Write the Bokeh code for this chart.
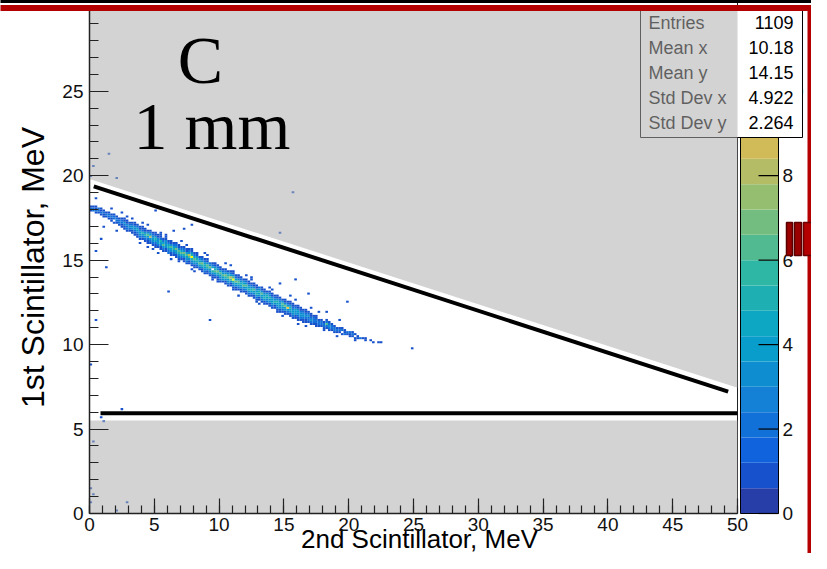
import numpy as np
from bokeh.plotting import figure
from bokeh.models import Range1d, ColumnDataSource, SingleIntervalTicker
from bokeh.core.properties import value
from bokeh.embed import file_html
from bokeh.resources import INLINE

# ---------------- histogram definition (TH2: 250 x 250 bins) ----------------
X_MIN, X_MAX, NBX = 0.0, 50.0, 250
Y_MIN, Y_MAX, NBY = 0.0, 30.0, 250
DX = (X_MAX - X_MIN) / NBX
DY = (Y_MAX - Y_MIN) / NBY
Z_MAX, N_LEVELS = 12.0, 20

# main band: x-bin of column, first y-bin, counts going up in y
band_xbin = [0, 1, 2, 3, 4, 5, 6, 7, 8, 9,
             10, 11, 12, 13, 14, 15, 16, 17, 18, 19,
             20, 21, 22, 23, 24, 25, 26, 27, 28, 29,
             30, 31, 32, 33, 34, 35, 36, 37, 38, 39,
             40, 41, 42, 43, 44, 45, 46, 47, 48, 49,
             50, 51, 52, 53, 54, 55, 56, 57, 58, 59,
             60, 61, 62, 63, 64, 65, 66, 67, 68, 69,
             70, 71, 72, 73, 74, 75, 76, 77, 78, 79,
             80, 81, 82, 83, 84, 85, 86, 87, 88, 89,
             90, 91, 92, 93, 94, 95, 96, 97, 98, 99,
             100, 101, 102, 103, 104, 105, 106, 108, 109, 111, 112]
band_ybin = [149, 149, 148, 148, 147, 146, 146, 145, 144, 143,
             143, 142, 141, 140, 139, 139, 138, 137, 136, 135,
             135, 134, 133, 133, 132, 131, 131, 130, 129, 129,
             128, 127, 127, 126, 125, 125, 124, 123, 123, 122,
             121, 121, 120, 119, 118, 118, 117, 116, 116, 115,
             114, 114, 113, 112, 112, 111, 110, 110, 109, 109,
             108, 107, 107, 106, 105, 105, 104, 103, 103, 102,
             101, 101, 100, 99, 99, 98, 98, 97, 96, 96,
             95, 95, 94, 94, 94, 93, 93, 92, 92, 92,
             91, 91, 90, 90, 89, 89, 89, 88, 88, 88,
             87, 87, 86, 86, 86, 86, 85, 85, 84, 84, 84]
band_counts = [
    [1, 2, 1], [2, 2, 1], [1, 2, 1, 1], [1, 2, 2], [1, 2, 1, 1],
    [1, 1, 2, 1], [1, 2, 1], [1, 2, 2, 1], [1, 1, 2, 1], [1, 0, 2, 2, 1],
    [1, 2, 2, 1], [1, 2, 2, 1], [1, 1, 2, 2, 1], [1, 1, 2, 3, 1, 1], [1, 2, 2, 3, 1, 1],
    [1, 2, 3, 2, 1], [1, 1, 3, 3, 2, 1], [1, 1, 2, 3, 3, 1, 1], [1, 1, 2, 3, 4, 2, 1], [1, 2, 3, 4, 3, 1, 1],
    [1, 2, 3, 5, 2, 1, 1], [1, 2, 3, 5, 3, 1, 1], [1, 1, 2, 4, 6, 3, 1], [1, 2, 3, 8, 4, 2, 1], [1, 2, 3, 4, 3, 2, 1],
    [1, 1, 2, 4, 5, 3, 1, 1], [1, 2, 4, 3, 3, 1, 1], [1, 1, 3, 4, 5, 2, 1, 1], [1, 2, 3, 6, 4, 2, 1], [1, 1, 3, 4, 3, 3, 1, 1],
    [1, 2, 3, 5, 4, 2, 1], [1, 1, 3, 4, 6, 3, 1, 1], [1, 2, 3, 5, 4, 2, 1], [1, 1, 3, 4, 7, 3, 2, 1], [1, 2, 3, 5, 6, 3, 1, 1],
    [1, 2, 4, 6, 4, 2, 1], [1, 1, 3, 5, 7, 3, 2, 1], [1, 2, 3, 4, 6, 4, 1, 1], [1, 1, 3, 6, 8, 3, 2, 1], [1, 2, 3, 5, 12, 5, 3, 1, 1],
    [1, 1, 3, 4, 6, 4, 2, 1], [1, 2, 3, 5, 5, 3, 1, 1], [1, 2, 4, 6, 4, 3, 1], [1, 1, 3, 5, 7, 3, 2, 1], [1, 2, 3, 4, 5, 4, 2, 1],
    [1, 1, 3, 5, 6, 3, 1, 1], [1, 2, 3, 4, 7, 3, 2], [1, 1, 3, 5, 0, 4, 2, 1], [1, 2, 4, 6, 5, 3, 1, 1], [1, 1, 3, 5, 7, 3, 2, 1],
    [1, 2, 3, 4, 6, 4, 1, 1], [1, 3, 4, 6, 4, 2, 1], [1, 1, 3, 5, 7, 3, 2, 1], [1, 2, 3, 4, 6, 5, 3, 1], [1, 1, 3, 6, 8, 4, 2, 1],
    [1, 2, 3, 5, 12, 6, 3, 1, 1], [1, 1, 3, 4, 7, 4, 2, 1], [1, 2, 3, 5, 6, 3, 1, 1], [1, 1, 3, 4, 5, 3, 2, 1], [1, 2, 3, 6, 4, 3, 1],
    [1, 1, 3, 4, 6, 3, 2, 1], [1, 2, 3, 5, 4, 3, 1, 1], [1, 2, 4, 5, 3, 2, 1], [1, 1, 3, 4, 6, 3, 1, 1], [1, 2, 3, 5, 4, 3, 1, 1],
    [1, 1, 3, 4, 5, 3, 2], [1, 2, 3, 4, 6, 3, 1, 1], [1, 1, 3, 5, 4, 3, 1, 1], [1, 2, 3, 4, 5, 3, 1], [1, 1, 3, 3, 5, 3, 2, 1],
    [1, 2, 3, 4, 4, 3, 1, 1], [1, 1, 3, 5, 3, 2, 1], [1, 2, 3, 4, 5, 3, 1, 1], [1, 1, 3, 3, 4, 3, 2, 1], [1, 2, 3, 5, 6, 3, 1],
    [1, 1, 3, 4, 7, 3, 1, 1], [1, 2, 3, 10, 4, 2, 1], [1, 1, 3, 4, 5, 3, 1, 1], [1, 2, 3, 4, 3, 2, 1, 1], [1, 1, 3, 3, 4, 2, 1],
    [1, 1, 2, 3, 4, 3, 1, 1], [1, 2, 3, 3, 2, 1, 1], [1, 1, 2, 3, 3, 2, 1], [1, 1, 2, 3, 2, 1, 1], [1, 2, 2, 3, 2, 1],
    [1, 2, 3, 2, 1, 1], [1, 2, 2, 2, 1], [1, 1, 2, 2, 1, 1], [1, 2, 2, 1], [1, 2, 2, 1],
    [1, 2, 2, 1], [1, 2, 6, 2, 1], [1, 2, 3, 2, 1], [1, 2, 2, 1], [1, 2, 2, 1],
    [1, 2, 1], [1, 2, 1], [1, 0, 2, 1], [2, 1, 1], [1, 2],
    [1, 1, 2], [1, 2, 1], [1, 0, 1], [1, 1], [2],
    [1], [1, 1], [1], [1], [1], [1]]

# isolated single entries (x, y in MeV)
out_x = [1.57, 0.33, 2.06, 0.08, 0.59, 15.6, 1.62, 5.0, 14.6, 6.4,
         7.3, 7.8, 0.8, 0.6, 1.36, 4.6, 6.1, 12.55, 15.8, 14.6,
         6.07, 16.8, 19.8, 9.28, 0.6, 18.3, 24.8, 0.8, 1.1, 2.57,
         0.33, 0.08, 0.33, 0.08, 2.08, 2.83, 0.08,
         1.0, 2.5, 3.2, 3.9, 4.4, 5.3, 5.9, 6.8, 7.1, 8.2,
         8.8, 9.9, 10.4, 11.6, 12.1, 13.2, 13.9, 14.9, 15.4, 16.6,
         17.2, 18.0, 19.3, 20.5,
         2.0, 2.9, 4.0, 4.9, 5.6, 6.3, 7.6, 7.9, 9.1, 9.4,
         10.8, 11.0, 12.6, 12.9, 14.2, 14.4, 15.9, 16.2, 17.7, 19.0]
out_y = [21.34, 20.6, 19.85, 20.0, 18.7, 18.96, 18.1, 17.9, 16.58, 16.7,
         16.8, 17.05, 16.2, 15.5, 14.6, 15.8, 15.4, 13.9, 13.9, 13.57,
         13.13, 12.98, 12.5, 11.46, 11.46, 11.9, 9.8, 5.75, 5.45, 6.2,
         4.2, 1.55, 1.1, 0.63, 0.22, 0.6, 8.8,
         17.0, 17.8, 17.45, 16.0, 17.1, 15.45, 16.55, 14.9, 16.1, 14.35,
         15.45, 13.7, 14.85, 12.95, 14.1, 12.45, 13.4, 11.65, 12.85, 11.1,
         12.15, 10.8, 11.45, 10.25,
         16.75, 17.6, 17.2, 15.6, 16.6, 15.05, 15.9, 14.45, 15.3, 13.85,
         14.65, 13.2, 13.95, 12.5, 13.3, 11.9, 12.6, 11.25, 11.95, 10.55]

# selection cuts (black lines) and the accepted (white) window
cut_upper_x = [0.33, 49.28]
cut_upper_y = [19.37, 7.22]
cut_lower_x = [0.85, 50.0]
cut_lower_y = [5.93, 5.93]
win_top_y = [19.8, 7.45]
win_bottom_y = 5.5

stat_names = ["Entries", "Mean x", "Mean y", "Std Dev x", "Std Dev y"]
stat_values = ["1109", "10.18", "14.15", "4.922", "2.264"]
z_ticks = [0, 2, 4, 6, 8, 10]

# ---------------- kBird palette ----------------
st = [0.0, 0.125, 0.25, 0.375, 0.5, 0.625, 0.75, 0.875, 1.0]
RR = [0.2082, 0.0592, 0.0780, 0.0232, 0.1802, 0.5301, 0.8186, 0.9956, 0.9764]
GG = [0.1664, 0.3599, 0.5041, 0.6419, 0.7178, 0.7492, 0.7328, 0.7862, 0.9832]
BB = [0.5293, 0.8684, 0.8385, 0.7914, 0.6425, 0.4662, 0.3499, 0.1968, 0.0539]


def bird(f):
    return "#%02x%02x%02x" % tuple(int(round(255 * np.interp(f, st, C))) for C in (RR, GG, BB))


level_colors = [bird(int((i + 0.99) * 255 / N_LEVELS) / 254.0) for i in range(N_LEVELS)]

# ---------------- fill cells ----------------
cells = {}
for xb, yb0, cnts in zip(band_xbin, band_ybin, band_counts):
    for k, c in enumerate(cnts):
        if c > 0:
            cells[(xb, yb0 + k)] = cells.get((xb, yb0 + k), 0) + c
for x, y in zip(out_x, out_y):
    key = (int(x / DX), int(y / DY))
    cells[key] = cells.get(key, 0) + 1

lefts, rights, bottoms, tops, cols = [], [], [], [], []
for (xb, yb), c in cells.items():
    lefts.append(X_MIN + xb * DX)
    rights.append(X_MIN + (xb + 1) * DX)
    bottoms.append(Y_MIN + yb * DY)
    tops.append(Y_MIN + (yb + 1) * DY)
    lev = min(int(c / (Z_MAX / N_LEVELS)), N_LEVELS - 1)
    cols.append(level_colors[lev])
cell_src = ColumnDataSource(dict(left=lefts, right=rights, bottom=bottoms, top=tops, color=cols))

# ---------------- figure (frame covers the whole canvas) ----------------
W, H = 811, 553
PX0, PY0 = 89.0, 513.0          # pixel of (0, 0)
SX, SY = 12.96, 16.89           # pixels per MeV
X0, X1 = -PX0 / SX, (W - PX0) / SX
Y0, Y1 = -(H - PY0) / SY, PY0 / SY


def dx(px):
    return (px - PX0) / SX


def dy(py):
    return (PY0 - py) / SY


p = figure(width=W, height=H, x_range=Range1d(X0, X1), y_range=Range1d(Y0, Y1),
           output_backend="svg", toolbar_location=None, title=None,
           min_border_left=0, min_border_right=0, min_border_top=0, min_border_bottom=0)
p.background_fill_color = "white"
p.border_fill_color = "white"
p.outline_line_color = None
p.grid.visible = False

xa = p.xaxis[0]
ya = p.yaxis[0]
xa.fixed_location = 0
ya.fixed_location = 0
xa.ticker = SingleIntervalTicker(interval=5, num_minor_ticks=5)
ya.ticker = SingleIntervalTicker(interval=5, num_minor_ticks=5)
xa.bounds = (0, 50)
ya.bounds = (0, 29.95)
for ax in (xa, ya):
    ax.axis_label = None
    ax.major_tick_out = 0
    ax.minor_tick_out = 0
    ax.axis_line_color = "#222222"
    ax.axis_line_width = 1.5
    ax.major_tick_line_color = "#222222"
    ax.minor_tick_line_color = "#222222"
    ax.major_tick_line_width = 1.2
    ax.minor_tick_line_width = 1.2
    ax.major_label_text_font = "Liberation Sans"
    ax.major_label_text_font_size = "19px"
    ax.major_label_text_color = "#111111"
xa.major_tick_in = 15
xa.minor_tick_in = 8
ya.major_tick_in = 19
ya.minor_tick_in = 9
xa.major_label_standoff = 4
ya.major_label_standoff = 6

# histogram cells
p.quad(left="left", right="right", bottom="bottom", top="top", fill_color="color",
       line_color=None, source=cell_src)

# colour palette axis
Y_PER_Z = Y_MAX / Z_MAX
CB_L, CB_R, CB_T = dx(740), dx(778), dx(758)
lev_w = Z_MAX / N_LEVELS
p.quad(left=[CB_L] * N_LEVELS, right=[CB_R] * N_LEVELS,
       bottom=[i * lev_w * Y_PER_Z for i in range(N_LEVELS)],
       top=[(i + 1) * lev_w * Y_PER_Z for i in range(N_LEVELS)],
       fill_color=level_colors, line_color=None)
p.quad(left=[CB_L], right=[CB_R], bottom=[0], top=[Z_MAX * Y_PER_Z],
       fill_color=None, line_color="black", line_width=1)
p.segment(x0=[CB_T] * len(z_ticks), x1=[CB_R] * len(z_ticks),
          y0=[z * Y_PER_Z for z in z_ticks], y1=[z * Y_PER_Z for z in z_ticks],
          line_color="black", line_width=1.2)
p.text(x=[dx(782)] * len(z_ticks), y=[z * Y_PER_Z for z in z_ticks],
       text=[str(z) for z in z_ticks], text_font=value("Liberation Sans"),
       text_font_size=value("19px"), text_color="#111111",
       text_align=value("left"), text_baseline=value("middle"))

# frame right edge
p.segment(x0=[50], x1=[50], y0=[0], y1=[Y1], line_color="#222222", line_width=1)

# statistics box
row_y = [dy(22), dy(47), dy(72), dy(97), dy(122)]
p.quad(left=[dx(640)], right=[dx(802)], bottom=[dy(137)], top=[dy(10)], fill_color="white",
       line_color="black", line_width=1)
p.text(x=[dx(648)] * 5, y=row_y, text=stat_names, text_font=value("Liberation Sans"),
       text_font_size=value("18px"), text_color="black",
       text_align=value("left"), text_baseline=value("middle"))
p.text(x=[dx(793)] * 5, y=row_y, text=stat_values, text_font=value("Liberation Sans"),
       text_font_size=value("18px"), text_color="black",
       text_align=value("right"), text_baseline=value("middle"))

# rejected regions (semi-transparent grey)
grey = (174, 174, 174)
p.patch([0, 50, 50, 0], [win_top_y[0], win_top_y[0], 30.0, 30.0],
        fill_color=grey, fill_alpha=0.545, line_color=None)
p.patch([0, 50, 50], [win_top_y[0], win_top_y[0], win_top_y[1]],
        fill_color=grey, fill_alpha=0.545, line_color=None)
p.patch([0, 50, 50, 0], [0, 0, win_bottom_y, win_bottom_y],
        fill_color=grey, fill_alpha=0.545, line_color=None)

# cut lines
p.line(cut_upper_x, cut_upper_y, line_color="black", line_width=4)
p.line(cut_lower_x, cut_lower_y, line_color="black", line_width=4)

# target label
p.text(x=[dx(200)], y=[dy(59)], text=["C"], text_font=value("Liberation Serif"),
       text_font_size=value("68px"), text_color="black",
       text_align=value("center"), text_baseline=value("middle"))
p.text(x=[dx(133)], y=[dy(125)], text=["1 mm"], text_font=value("Liberation Serif"),
       text_font_size=value("68px"), text_color="black",
       text_align=value("left"), text_baseline=value("middle"))

# axis titles
p.text(x=[dx(32)], y=[dy(267)], text=["1st Scintillator, MeV"], angle=90, angle_units="deg",
       text_font=value("Liberation Sans"), text_font_size=value("32px"), text_color="black",
       text_align=value("center"), text_baseline=value("middle"))
p.text(x=[dx(419)], y=[dy(538.5)], text=["2nd Scintillator, MeV"],
       text_font=value("Liberation Sans"), text_font_size=value("26px"), text_color="black",
       text_align=value("center"), text_baseline=value("middle"))

# slide decorations (red frame around the picture)
RED = "#b40000"
p.quad(left=[X0], right=[X1], bottom=[dy(2.5)], top=[Y1 + 1], fill_color="black",
       line_color=None, level="overlay")
p.quad(left=[X0], right=[X1], bottom=[dy(10.5)], top=[dy(4.5)], fill_color=RED,
       line_color=None, level="overlay")
p.quad(left=[dx(807)], right=[X1 + 1], bottom=[Y0 - 1], top=[dy(4.5)], fill_color=RED,
       line_color=None, level="overlay")
p.quad(left=[dx(786), dx(794)], right=[dx(792), dx(801)], bottom=[dy(255)] * 2, top=[dy(222)] * 2,
       fill_color="#9a0000", line_color="#5a0000", line_width=1.5, level="overlay")
p.quad(left=[dx(803)], right=[X1 + 1], bottom=[dy(255)], top=[dy(222)],
       fill_color=RED, line_color="#6a0000", line_width=1.5, level="overlay")

open("out.html", "w").write(file_html(p, INLINE))
